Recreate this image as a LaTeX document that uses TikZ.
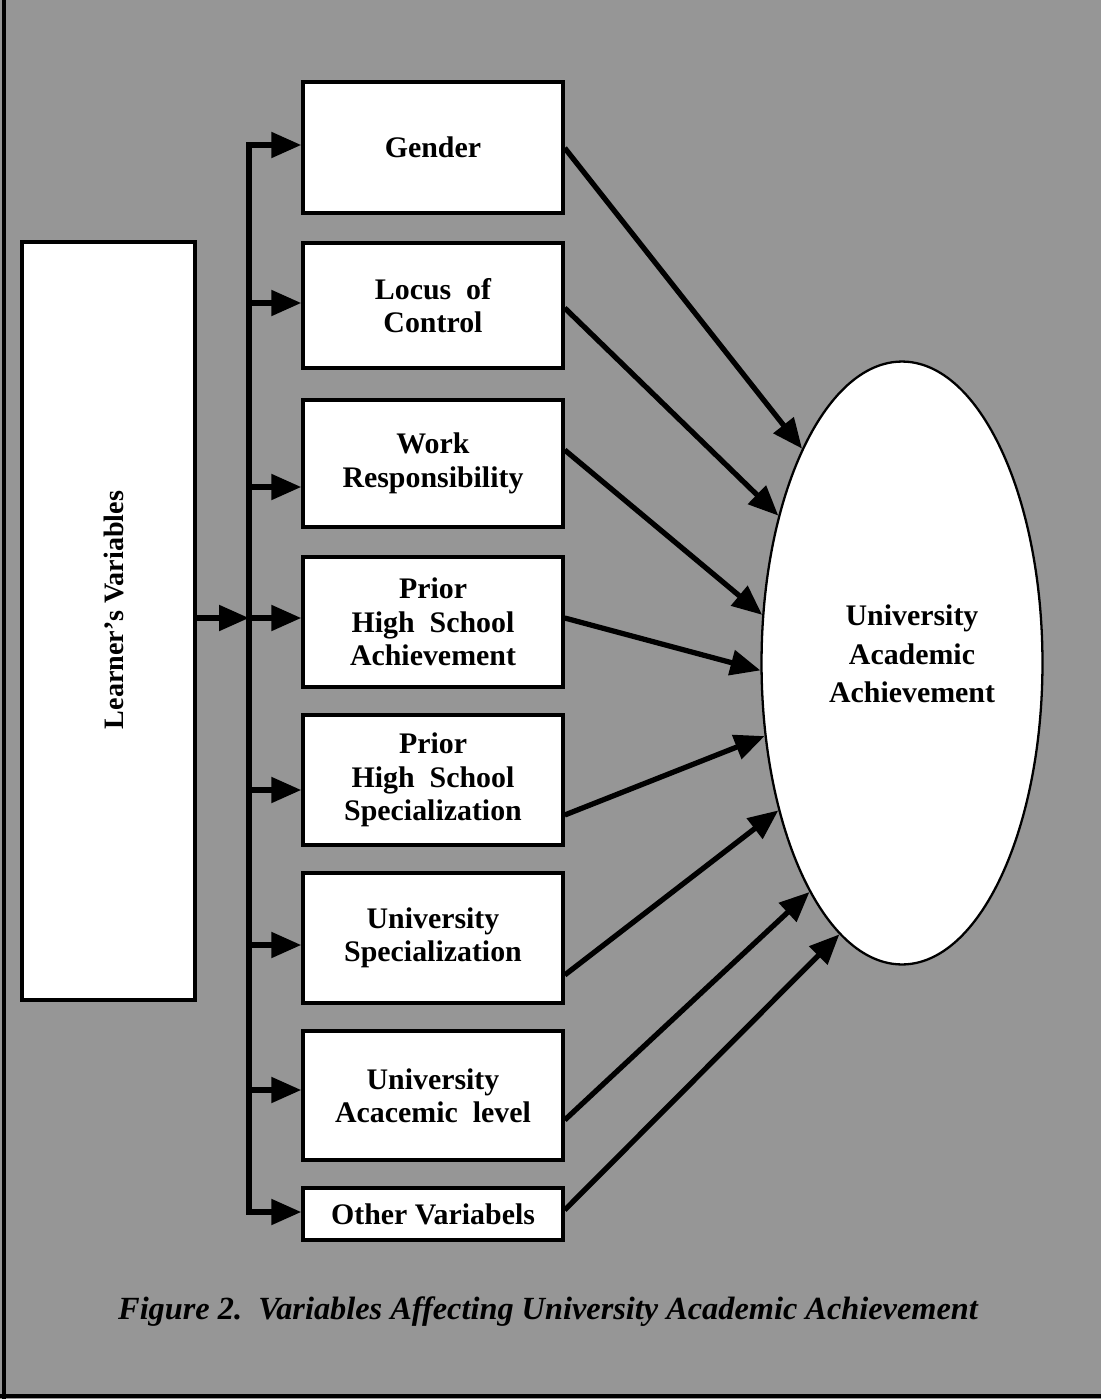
\documentclass[tikz,border=0pt]{standalone}
\usepackage{fontspec}
\setmainfont{Liberation Serif}
\usetikzlibrary{arrows.meta,shapes.geometric}

\definecolor{screen}{RGB}{150,150,150}

\tikzset{
  varbox/.style={draw=black, line width=2pt, fill=white, inner sep=0pt,
    minimum width=5.2cm, align=center,
    font=\bfseries\fontsize{17}{19}\selectfont},
  feed/.style={draw=black, line width=3pt,
    -{Triangle[length=0.6cm,width=0.5cm]}},
  busline/.style={draw=black, line width=3pt, line cap=rect},
}

\begin{document}
\begin{tikzpicture}[x=0.02cm, y=-0.02cm]
  % page and halftone ground
  \useasboundingbox (0,0) rectangle (1101,1399);
  \fill[screen] (0,0) rectangle (1101,1399);
  \draw[black, line width=2.5pt] (4,0) -- (4,1399);
  \draw[black, line width=2.5pt] (0,1396) -- (1101,1396);

  % source block
  \node[draw=black, line width=2pt, fill=white, inner sep=0pt,
        minimum width=3.46cm, minimum height=15.16cm] (lv) at (108.5,621) {};
  \node[rotate=90, font=\bfseries\fontsize{16}{18}\selectfont] (lvtext) at (114,610) {Learner's Variables};

  % the eight variable boxes
  \node[varbox, minimum height=2.62cm] (g)  at (433,147.5) {Gender};
  \node[varbox, minimum height=2.50cm] (l)  at (433,305.5) {Locus\enspace of\\Control};
  \node[varbox, minimum height=2.54cm] (w)  at (433,463.5) {Work\\Responsibility};
  \node[varbox, minimum height=2.60cm] (pa) at (433,622)   {Prior\\High\enspace School\\Achievement};
  \node[varbox, minimum height=2.60cm] (ps) at (433,780)   {Prior\\High\enspace School\\Specialization};
  \node[varbox, minimum height=2.60cm] (us) at (433,938)   {University\\Specialization};
  \node[varbox, minimum height=2.58cm] (ua) at (433,1095.5){University\\Acacemic\enspace level};
  \node[varbox, minimum height=1.04cm] (ov) at (433,1214)  {Other Variabels};

  % outcome
  \node[ellipse, draw=black, line width=1.3pt, fill=white, inner sep=0pt,
        minimum width=5.62cm, minimum height=12.06cm] (uaa) at (902,663) {};
  \node[align=center, font=\bfseries\fontsize{17}{22}\selectfont] (uaatext) at (912,654)
        {University\\Academic\\Achievement};

  % distribution bus
  \coordinate (bustop) at (249,145);
  \coordinate (busbot) at (249,1212);
  \coordinate (hub)    at (249,618);

  \coordinate (gin)  at (g.west  |- 0,145);
  \coordinate (lin)  at (l.west  |- 0,303);
  \coordinate (win)  at (w.west  |- 0,487);
  \coordinate (pain) at (pa.west |- 0,618);
  \coordinate (psin) at (ps.west |- 0,790);
  \coordinate (usin) at (us.west |- 0,945);
  \coordinate (uain) at (ua.west |- 0,1090);
  \coordinate (ovin) at (ov.west |- 0,1212);

  \draw[busline] (bustop) -- (busbot);
  \draw[feed] (lv.east |- hub) -- (hub);
  \draw[feed] (busbot) -- (bustop) -- (gin);
  \draw[feed] (bustop) -- (busbot) -- (ovin);
  \draw[feed] (bustop |- lin)  -- (lin);
  \draw[feed] (bustop |- win)  -- (win);
  \draw[feed] (bustop |- pain) -- (pain);
  \draw[feed] (bustop |- psin) -- (psin);
  \draw[feed] (bustop |- usin) -- (usin);
  \draw[feed] (bustop |- uain) -- (uain);

  % effects on the outcome
  \coordinate (gout)  at (g.east  |- 0,148);
  \coordinate (lout)  at (l.east  |- 0,308);
  \coordinate (wout)  at (w.east  |- 0,450);
  \coordinate (paout) at (pa.east |- 0,618);
  \coordinate (psout) at (ps.east |- 0,815);
  \coordinate (usout) at (us.east |- 0,975);
  \coordinate (uaout) at (ua.east |- 0,1120);
  \coordinate (ovout) at (ov.east |- 0,1210);

  \draw[feed] (gout)  -- (uaa.115);
  \draw[feed] (lout)  -- (uaa.130);
  \draw[feed] (wout)  -- (uaa.161);
  \draw[feed] (paout) -- (uaa.183);
  \draw[feed] (psout) -- (uaa.208);
  \draw[feed] (usout) -- (uaa.230);
  \draw[feed] (uaout) -- (uaa.248);
  \draw[feed] (ovout) -- (uaa.257);

  % caption
  \node[font=\bfseries\itshape\fontsize{18.4}{20}\selectfont] (cap) at (548,1312)
    {Figure 2.\ \ Variables Affecting University Academic Achievement};
\end{tikzpicture}
\end{document}
